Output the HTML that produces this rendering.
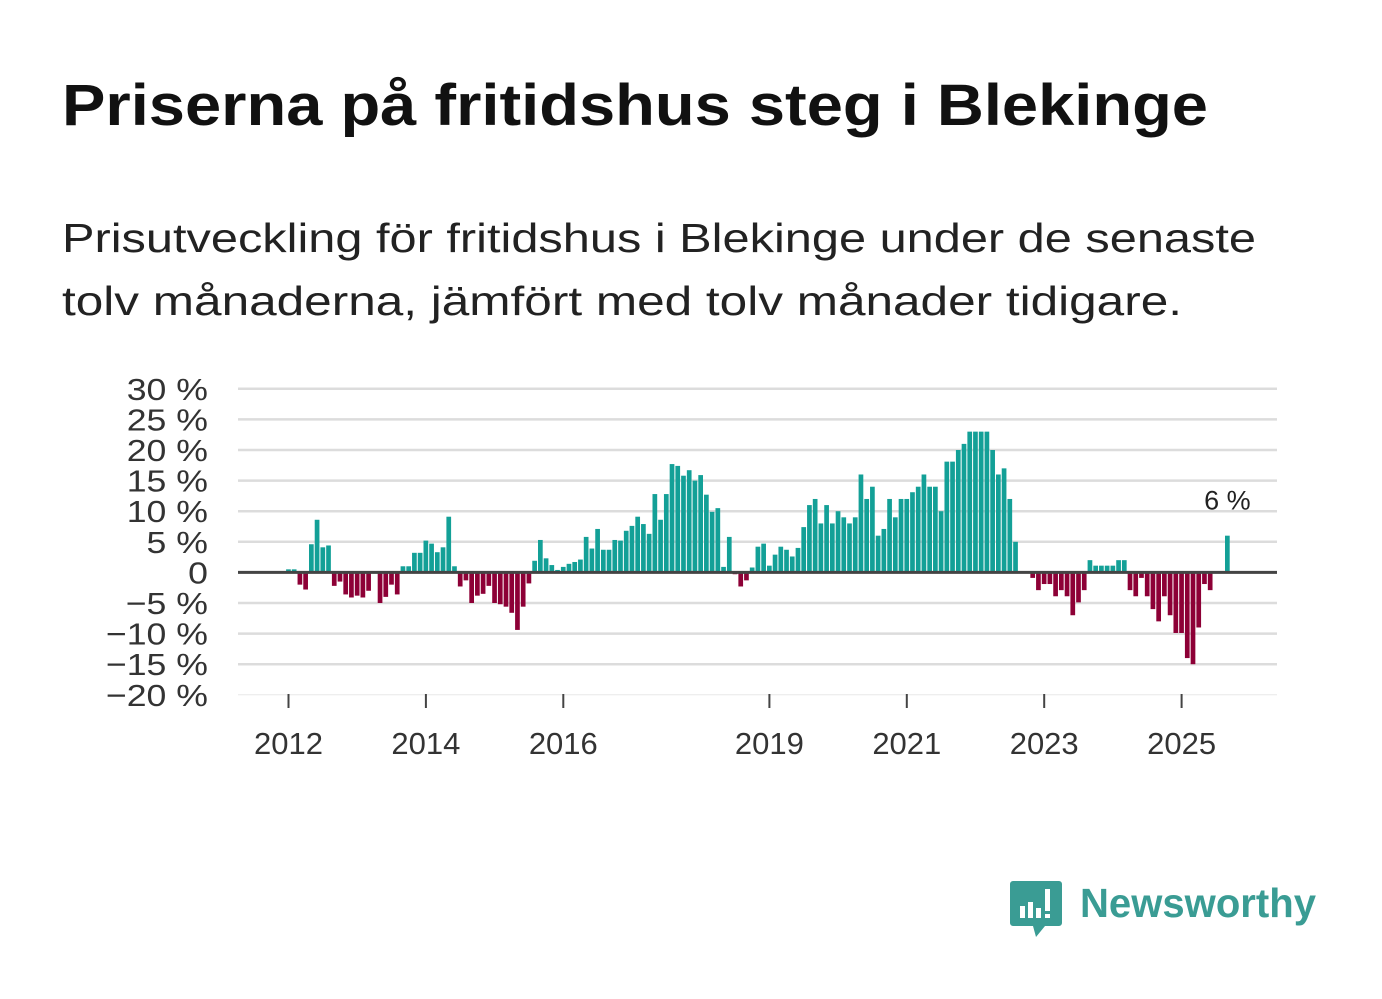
<!DOCTYPE html>
<html><head><meta charset="utf-8">
<style>
body{margin:0;background:#fff;width:1382px;height:999px;overflow:hidden;font-family:"Liberation Sans",sans-serif;}
svg{display:block}
</style></head>
<body>
<svg id="chart" width="1382" height="999" xmlns="http://www.w3.org/2000/svg">
<text x="62" y="125" font-size="58" font-weight="bold" fill="#111" textLength="1146" lengthAdjust="spacingAndGlyphs">Priserna på fritidshus steg i Blekinge</text>
<text x="62" y="252" font-size="41" fill="#222" textLength="1194" lengthAdjust="spacingAndGlyphs">Prisutveckling för fritidshus i Blekinge under de senaste</text>
<text x="62" y="315" font-size="41" fill="#222" textLength="1120" lengthAdjust="spacingAndGlyphs">tolv månaderna, jämfört med tolv månader tidigare.</text>
<g id="grid"></g><g id="bars"></g><g id="axes"></g>
<g>
<path d="M1013 881 h46 a3 3 0 0 1 3 3 v39 a3 3 0 0 1 -3 3 h-14 l-9 11 l-3 -11 h-20 a3 3 0 0 1 -3 -3 v-39 a3 3 0 0 1 3 -3z" fill="#3a9c94"/>
<rect x="1020" y="906" width="5" height="12" fill="#fff"/>
<rect x="1028" y="902" width="5" height="16" fill="#fff"/>
<rect x="1036" y="908" width="5" height="10" fill="#fff"/>
<rect x="1045" y="889" width="5" height="22" fill="#fff"/>
<rect x="1045" y="914" width="5" height="4" fill="#fff"/>
<text x="1080" y="917" font-size="41" font-weight="bold" fill="#3a9c94" textLength="236" lengthAdjust="spacingAndGlyphs">Newsworthy</text>
</g>
</svg>
<script>
const values=[0.5,0.5,-2,-2.8,4.6,8.6,4.1,4.4,-2.2,-1.5,-3.6,-4.1,
-3.8,-4.1,-3,0,-5,-4,-2,-3.6,1,1,3.2,3.2,
5.2,4.7,3.3,4.1,9.1,1,-2.3,-1.3,-5,-3.8,-3.5,-2.2,
-5,-5.2,-5.6,-6.6,-9.4,-5.6,-1.8,1.9,5.3,2.3,1.2,0.4,
0.9,1.4,1.7,2.1,5.8,3.9,7.1,3.7,3.7,5.3,5.2,6.8,
7.6,9.1,7.9,6.3,12.8,8.6,12.8,17.7,17.4,15.8,16.7,15,
15.9,12.7,9.9,10.5,0.9,5.8,-0.3,-2.3,-1.3,0.8,4.2,4.7,
1.1,2.9,4.2,3.7,2.6,4,7.4,11,12,8,11,8,
10,9,8,9,16,12,14,6,7.1,12,9,12,
12,13.1,14,16,14,14,10,18.1,18.1,20,21,23,
23,23,23,20,16,17,12,5,0,0,-0.9,-2.9,
-1.9,-1.9,-3.9,-2.9,-3.9,-7,-4.9,-2.9,2,1.1,1.1,1.1,
1.1,2,2,-2.9,-3.9,-0.9,-3.9,-6,-8,-3.9,-7,-9.9,
-9.9,-14,-15,-9,-1.9,-2.9,0,0,6];
const startYear=2012;
const yTicks=[30,25,20,15,10,5,0,-5,-10,-15,-20];
const yTickLabels=["30 %","25 %","20 %","15 %","10 %","5 %","0","−5 %","−10 %","−15 %","−20 %"];
const xTickYears=[2012,2014,2016,2019,2021,2023,2025];
const lastLabel="6 %";
const NS="http://www.w3.org/2000/svg";
const y=v=>572.4-v*6.12;
const x=i=>288.5+i*5.725;
function mk(tag,attrs,parent){const e=document.createElementNS(NS,tag);for(const k in attrs)e.setAttribute(k,attrs[k]);parent.appendChild(e);return e;}
const grid=document.getElementById('grid'),bars=document.getElementById('bars'),axes=document.getElementById('axes');
yTicks.forEach((t,k)=>{
 const l=mk('line',{x1:238,x2:1277,y1:y(t),y2:y(t),stroke:t===-20?'#e8e8e8':'#dcdcdc','stroke-width':t===-20?1:2.5},grid);
 
 
 const tx=mk('text',{x:208,y:y(t)+11,'text-anchor':'end','font-size':31,fill:'#333'},axes);
 tx.textContent=yTickLabels[k];
 
 
 const w=tx.getComputedTextLength();
 tx.setAttribute('textLength',w*1.15);
 tx.setAttribute('lengthAdjust','spacingAndGlyphs');
});
values.forEach((v,i)=>{
 const r=mk('rect',{x:x(i)-2.4,width:4.7,y:Math.min(y(v),y(0)),height:Math.abs(y(v)-y(0)),fill:v>=0?'#13a097':'#8d0036'},bars);
 
 
});
const zl=mk('line',{x1:238,x2:1277,y1:y(0),y2:y(0),stroke:'#444','stroke-width':3},axes);


xTickYears.forEach(yr=>{
 const xi=x((yr-startYear)*12);
 const tk=mk('line',{x1:xi,x2:xi,y1:694,y2:708,stroke:'#444','stroke-width':2},axes);
 
 
 const t=mk('text',{x:xi,y:754,'text-anchor':'middle','font-size':31,fill:'#333'},axes);
 t.textContent=yr;
 
 
});
const li=values.length-1;
const lb=mk('text',{x:x(li),y:y(values[li])-26,'text-anchor':'middle','font-size':27,fill:'#222'},axes);
lb.textContent=lastLabel;


</script>
</body></html>
